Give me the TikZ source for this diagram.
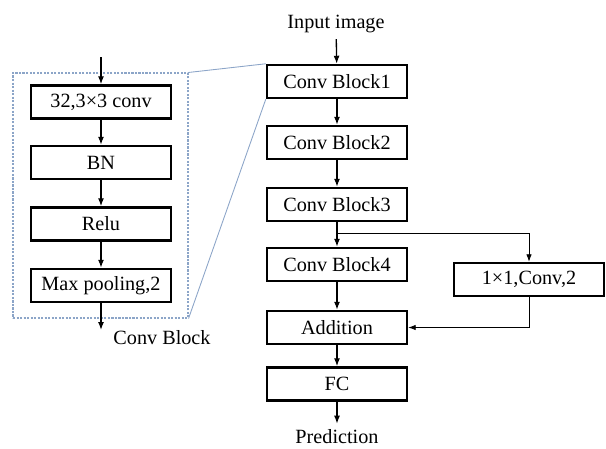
\documentclass[tikz,border=0pt]{standalone}
\usepackage{fontspec}
\setmainfont{Liberation Serif}
\usetikzlibrary{positioning,arrows.meta}
\definecolor{zoomblue}{RGB}{140,165,200}

\begin{document}
\begin{tikzpicture}[x=0.2mm,y=-0.2mm,font=\fontsize{11.5}{13}\selectfont,
    blk/.style={draw=black,line width=1.4pt,rectangle,minimum width=28mm,minimum height=6.6mm,inner sep=0pt},
    flow/.style={-{Latex[length=1.6mm,width=1.2mm]},line width=0.75pt},
    skip/.style={-{Latex[length=1.5mm,width=1.1mm]},line width=0.5pt}]
        \useasboundingbox (0,0) rectangle (606,448);
        % zoomed conv block
        \node[draw=zoomblue,dash pattern=on 1.2pt off 0.8pt,line width=0.6pt,minimum width=35mm,minimum height=49mm,inner sep=0pt] (zbox) at (100.5,195.5) {};
        \node[blk] (conv) at (101,102) {32,3×3 conv};
        \node[blk] (bn) at (101,162.5) {BN};
        \node[blk] (relu) at (101,224) {Relu};
        \node[blk] (pool) at (101,285.5) {Max pooling,2};
        \coordinate (lin) at (101,57);
        \coordinate (lout) at (101,330);
        \node (cbtext) at (162,338) {Conv Block};
        \draw[flow] (lin) -- (conv);
        \draw[flow] (conv) -- (bn);
        \draw[flow] (bn) -- (relu);
        \draw[flow] (relu) -- (pool);
        \draw[flow] (pool) -- (lout);
        % main network
        \node (inp) at (336,24) {Input image};
        \node[blk] (cb1) at (337,81.5) {Conv Block1};
        \node[blk] (cb2) at (337,142.5) {Conv Block2};
        \node[blk] (cb3) at (337,204.5) {Conv Block3};
        \node[blk] (cb4) at (337,264.5) {Conv Block4};
        \node[blk] (add) at (337,327.5) {Addition};
        \node[blk] (fc) at (337,384) {FC};
        \node (pred) at (337,437) {Prediction};
        \node[blk,minimum width=30mm] (side) at (529,279.5) {1×1,Conv,2};
        \coordinate (br) at (337,233);
        \draw[flow] (inp) -- (cb1);
        \draw[flow] (cb1) -- (cb2);
        \draw[flow] (cb2) -- (cb3);
        \draw[flow] (cb3) -- (cb4);
        \draw[flow] (cb4) -- (add);
        \draw[flow] (add) -- (fc);
        \draw[flow] (fc) -- (pred);
        \draw[skip] (br) -| (side);
        \draw[skip] (side.south) |- (add.east);
        % zoom lines
        \draw[zoomblue,line width=0.5pt] (zbox.north east) -- (cb1.north west);
        \draw[zoomblue,line width=0.5pt] (zbox.south east) -- (cb1.south west);
\end{tikzpicture}
\end{document}
